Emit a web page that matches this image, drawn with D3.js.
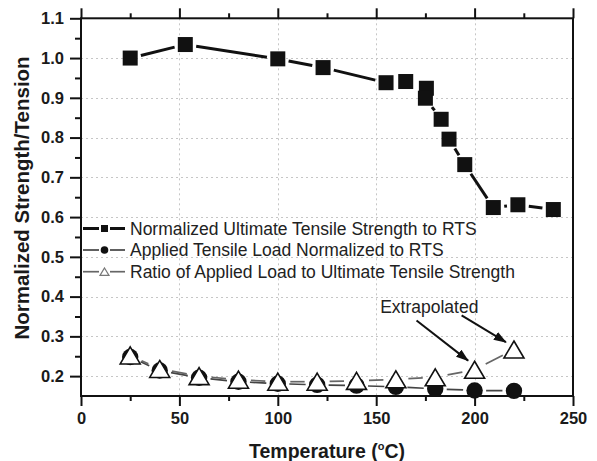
<!DOCTYPE html>
<html>
<head>
<meta charset="utf-8">
<script src="https://cdn.jsdelivr.net/npm/d3@7"></script>
<style>
  html, body { margin: 0; padding: 0; background: #fff; }
  svg { display: block; font-family: "Liberation Sans", Arial, sans-serif; }
</style>
</head>
<body>
<svg id="chart" width="597" height="461"></svg>
<script>
// Normalized ultimate tensile strength (to RTS) vs temperature
const utsTemp  = [25, 53, 100, 123, 155, 165, 175.5, 175, 183, 187, 195, 209.5, 222, 240];
const utsValue = [1.000, 1.034, 0.998, 0.976, 0.938, 0.941, 0.924, 0.899, 0.846, 0.796, 0.732, 0.624, 0.631, 0.619];

// Applied tensile load normalized to RTS
const loadTemp  = [25, 40, 60, 80, 100, 120, 140, 160, 180, 200, 220];
const loadValue = [0.248, 0.214, 0.196, 0.186, 0.181, 0.178, 0.176, 0.173, 0.168, 0.164, 0.163];

// Ratio of applied load to ultimate tensile strength
const ratioTemp  = [25, 40, 60, 80, 100, 120, 140, 160, 180, 200, 220];
const ratioValue = [0.252, 0.218, 0.200, 0.191, 0.186, 0.186, 0.188, 0.192, 0.197, 0.216, 0.267];

// Axis ticks
const xMajor = [0, 50, 100, 150, 200, 250];
const xMinor = [25, 75, 125, 175, 225];
const yMajor = [0.2, 0.3, 0.4, 0.5, 0.6, 0.7, 0.8, 0.9, 1.0, 1.1];
const yMinor = [0.25, 0.35, 0.45, 0.55, 0.65, 0.75, 0.85, 0.95, 1.05];
const xGrid = [50, 100, 150, 200];
const yGrid = [0.2, 0.3, 0.4, 0.5, 0.6, 0.7, 0.8, 0.9, 1.0];

const legendLabels = [
  "Normalized Ultimate Tensile Strength to RTS",
  "Applied Tensile Load Normalized to RTS",
  "Ratio of Applied Load to Ultimate Tensile Strength"
];

// Annotation: label plus two arrows (data coordinates)
const noteText = "Extrapolated";
const noteAt = [152, 0.3584];
const arrows = [
  { from: [170.5, 0.340], to: [196.7, 0.239] },
  { from: [193.4, 0.353], to: [215.9, 0.2854] }
];

const svg = d3.select("#chart");
const plotL = 81, plotR = 573, plotT = 18.3, plotB = 396;

const x = d3.scaleLinear().domain([0, 250]).range([plotL, plotR]);
const y = d3.scaleLinear().domain([0.15, 1.1]).range([plotB, plotT]);

// Grid
const grid = svg.append("g").attr("stroke", "#c6c6c6").attr("stroke-width", 1)
  .attr("stroke-dasharray", "2,3");
grid.selectAll(".gy").data(yGrid).join("line")
  .attr("x1", plotL).attr("x2", plotR)
  .attr("y1", d => Math.round(y(d)) + 0.5).attr("y2", d => Math.round(y(d)) + 0.5);
grid.selectAll(".gx").data(xGrid).join("line")
  .attr("y1", plotT).attr("y2", plotB)
  .attr("x1", d => Math.round(x(d)) + 0.5).attr("x2", d => Math.round(x(d)) + 0.5);

// Axes
const tickFont = "bold 16.5px 'Liberation Sans', Arial, sans-serif";

const xAxis = svg.append("g").attr("transform", `translate(0,${plotB})`)
  .call(d3.axisBottom(x).tickValues(xMajor).tickSize(10).tickPadding(6).tickFormat(d3.format("d")));
const xAxisMinor = svg.append("g").attr("transform", `translate(0,${plotB})`)
  .call(d3.axisBottom(x).tickValues(xMinor).tickSize(5).tickFormat(""));
const xTop = svg.append("g").attr("transform", `translate(0,${plotT})`)
  .call(d3.axisTop(x).tickValues(xMajor).tickSize(10).tickFormat(""));
const xTopMinor = svg.append("g").attr("transform", `translate(0,${plotT})`)
  .call(d3.axisTop(x).tickValues(xMinor).tickSize(5).tickFormat(""));

const yAxis = svg.append("g").attr("transform", `translate(${plotL},0)`)
  .call(d3.axisLeft(y).tickValues(yMajor).tickSize(11).tickPadding(6).tickFormat(d3.format(".1f")));
const yAxisMinor = svg.append("g").attr("transform", `translate(${plotL},0)`)
  .call(d3.axisLeft(y).tickValues(yMinor).tickSize(6).tickFormat(""));

[xAxis, xAxisMinor, xTop, xTopMinor, yAxis, yAxisMinor].forEach(g => {
  g.selectAll(".domain").remove();
  g.selectAll(".tick line").attr("stroke", "#111").attr("stroke-width", 2);
  g.selectAll("text").attr("fill", "#1a1a1a").style("font", tickFont);
});
// frame lines
svg.append("rect").attr("x", plotL).attr("y", plotT).attr("width", plotR - plotL).attr("height", plotB - plotT)
  .attr("fill", "none").attr("stroke", "#111").attr("stroke-width", 2);

// Series lines: segments stop short of each marker, leaving a small gap
const utsPts = utsTemp.map((t, i) => [t, utsValue[i]]);
const loadPts = loadTemp.map((t, i) => [t, loadValue[i]]);
const ratioPts = ratioTemp.map((t, i) => [t, ratioValue[i]]);

function gappedSegments(pts, gap) {
  const segs = [];
  for (let i = 0; i < pts.length - 1; i++) {
    const x1 = x(pts[i][0]), y1 = y(pts[i][1]);
    const x2 = x(pts[i + 1][0]), y2 = y(pts[i + 1][1]);
    const len = Math.hypot(x2 - x1, y2 - y1);
    if (len <= 2 * gap + 1) continue;
    const ux = (x2 - x1) / len, uy = (y2 - y1) / len;
    segs.push([x1 + ux * gap, y1 + uy * gap, x2 - ux * gap, y2 - uy * gap]);
  }
  return segs;
}

function drawSegments(pts, gap, color, width) {
  svg.append("g").selectAll("line").data(gappedSegments(pts, gap)).join("line")
    .attr("x1", d => d[0]).attr("y1", d => d[1]).attr("x2", d => d[2]).attr("y2", d => d[3])
    .attr("stroke", color).attr("stroke-width", width);
}

drawSegments(utsPts, 11, "#111", 3);
drawSegments(loadPts, 11.5, "#444", 1.7);
drawSegments(ratioPts, 12.5, "#666", 1.7);

// Markers
svg.append("g").selectAll("rect").data(utsPts).join("rect")
  .attr("x", d => x(d[0]) - 7.5).attr("y", d => y(d[1]) - 7.5)
  .attr("width", 15).attr("height", 15).attr("fill", "#111");

svg.append("g").selectAll("circle").data(loadPts).join("circle")
  .attr("cx", d => x(d[0])).attr("cy", d => y(d[1])).attr("r", 8.2).attr("fill", "#111");

const tri = (cx, cy, w, h) => `M${cx},${cy - h / 2}L${cx + w / 2},${cy + h / 2}L${cx - w / 2},${cy + h / 2}Z`;
svg.append("g").selectAll("path").data(ratioPts).join("path")
  .attr("d", d => tri(x(d[0]), y(d[1]), 20, 17))
  .attr("fill", "#fff").attr("stroke", "#111").attr("stroke-width", 1.6).attr("stroke-linejoin", "miter");

// Legend
const legendFont = "17.5px 'Liberation Sans', Arial, sans-serif";
const legendY = [228.5, 250, 271.7];
const lg = svg.append("g");
const lgStroke = ["#111", "#444", "#666"];
const lgWidth = [3, 1.7, 1.7];
legendY.forEach((ly, i) => {
  lg.append("line").attr("x1", 83).attr("x2", 99).attr("y1", ly).attr("y2", ly)
    .attr("stroke", lgStroke[i]).attr("stroke-width", lgWidth[i]);
  lg.append("line").attr("x1", 110).attr("x2", 125).attr("y1", ly).attr("y2", ly)
    .attr("stroke", lgStroke[i]).attr("stroke-width", lgWidth[i]);
  if (i === 0) {
    lg.append("rect").attr("x", 101).attr("y", ly - 3.5).attr("width", 7).attr("height", 7).attr("fill", "#111");
  } else if (i === 1) {
    lg.append("circle").attr("cx", 104.5).attr("cy", ly).attr("r", 3.8).attr("fill", "#111");
  } else {
    lg.append("path").attr("d", tri(104.5, ly, 9, 7.5)).attr("fill", "#fff")
      .attr("stroke", "#777").attr("stroke-width", 1.2);
  }
  lg.append("text").attr("x", 130).attr("y", ly + 6.3).attr("fill", "#222")
    .style("font", legendFont).text(legendLabels[i]);
});

// Annotation
svg.append("text").attr("x", x(noteAt[0])).attr("y", y(noteAt[1])).attr("fill", "#222")
  .style("font", legendFont).text(noteText);

svg.append("defs").append("marker").attr("id", "ah")
  .attr("viewBox", "0 0 13 10").attr("refX", 12).attr("refY", 5)
  .attr("markerWidth", 13).attr("markerHeight", 10).attr("markerUnits", "userSpaceOnUse")
  .attr("orient", "auto")
  .append("path").attr("d", "M0,0.5L13,5L0,9.5Z").attr("fill", "#111");

svg.append("g").selectAll("line").data(arrows).join("line")
  .attr("x1", d => x(d.from[0])).attr("y1", d => y(d.from[1]))
  .attr("x2", d => x(d.to[0])).attr("y2", d => y(d.to[1]))
  .attr("stroke", "#111").attr("stroke-width", 2).attr("marker-end", "url(#ah)");

// Axis titles
svg.append("text").attr("x", 327).attr("y", 458).attr("text-anchor", "middle")
  .attr("fill", "#1a1a1a").style("font", "bold 19.5px 'Liberation Sans', Arial, sans-serif")
  .call(t => {
    t.append("tspan").text("Temperature (");
    t.append("tspan").attr("dy", -8).style("font-size", "11px").text("o");
    t.append("tspan").attr("dy", 8).text("C)");
  });

svg.append("text").attr("transform", "translate(29,198) rotate(-90)").attr("text-anchor", "middle")
  .attr("fill", "#1a1a1a").style("font", "bold 20.5px 'Liberation Sans', Arial, sans-serif")
  .text("Normalized Strength/Tension");
</script>
</body>
</html>
